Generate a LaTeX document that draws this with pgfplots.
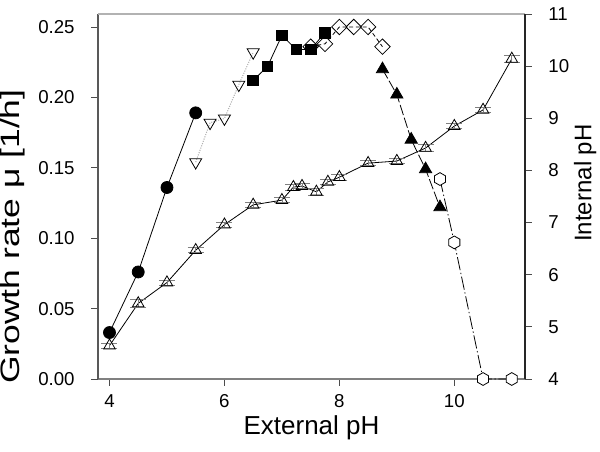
\documentclass[border=0pt]{standalone}
\usepackage{fontspec}
\setmainfont{Liberation Sans}
\usepackage{pgfplots}
\pgfplotsset{compat=1.18}

% open hexagon mark (pointy top)
\pgfdeclareplotmark{hexagon}{%
  \pgfpathmoveto{\pgfqpointpolar{90}{\pgfplotmarksize}}%
  \pgfpathlineto{\pgfqpointpolar{150}{\pgfplotmarksize}}%
  \pgfpathlineto{\pgfqpointpolar{210}{\pgfplotmarksize}}%
  \pgfpathlineto{\pgfqpointpolar{270}{\pgfplotmarksize}}%
  \pgfpathlineto{\pgfqpointpolar{330}{\pgfplotmarksize}}%
  \pgfpathlineto{\pgfqpointpolar{30}{\pgfplotmarksize}}%
  \pgfpathclose
  \pgfusepathqfillstroke
}

\pgfplotsset{
  base/.style={
    scale only axis, width=320.25pt, height=273.75pt,
    xmin=3.8, xmax=11.23, clip=false,
    tick align=outside, major tick length=5pt,
    tick style={black!70, line width=0.6pt},
    tick label style={font=\fontsize{14}{16}\selectfont},
    /pgf/number format/assume math mode=true,
  },
}

\begin{document}
\begin{tikzpicture}
\useasboundingbox (-73.5pt,-54pt) rectangle (376.5pt,284.25pt);

\begin{axis}[base,
  ymin=0, ymax=0.2592,
  axis x line*=bottom, axis y line*=left,
  x axis line style={-, black!50, line width=1pt},
  y axis line style={-, black!65, line width=0.8pt},
  xtick={4,6,8,10},
  ytick={0,0.05,0.10,0.15,0.20,0.25},
  xticklabel style={yshift=-3pt},
  yticklabel style={xshift=-9pt, /pgf/number format/fixed, /pgf/number format/fixed zerofill, /pgf/number format/precision=2},
  xlabel={External pH}, ylabel={\scalebox{1.33}[1]{Growth rate μ [1/h]}},
  every axis x label/.style={at={(axis description cs:0.5,-0.134)}, anchor=center,
    font=\fontsize{19.5}{22}\selectfont},
  every axis y label/.style={at={(axis description cs:-0.199,0.39)}, rotate=90, anchor=center,
    font=\fontsize{20}{23}\selectfont},
]
\addplot[black, line width=0.6pt, mark=*, mark size=4.5pt]
  coordinates {(4,0.033) (4.5,0.076) (5,0.136) (5.5,0.189)};
\addplot[gray!60, densely dotted, line width=0.8pt, mark=triangle, mark size=5.2pt,
  mark options={solid, black, fill=white, rotate=180, line width=0.6pt}]
  coordinates {(5.5,0.154) (5.75,0.182) (6,0.185) (6.25,0.209) (6.5,0.232)};
\addplot[black, line width=0.6pt, mark=square*, mark size=4pt]
  coordinates {(6.5,0.212) (6.75,0.222) (7,0.244) (7.25,0.234) (7.5,0.234) (7.75,0.246)};
\addplot[black, line width=0.6pt, densely dashed, mark=square, mark size=4.1pt,
  mark options={solid, rotate=45, fill=white}]
  coordinates {(7.5,0.236) (7.75,0.238) (8,0.25) (8.25,0.25) (8.5,0.25) (8.75,0.236)};
\addplot[black, line width=0.6pt, dash pattern=on 8pt off 2pt, mark=triangle*, mark size=5.3pt,
  mark options={solid}]
  coordinates {(8.75,0.220) (9,0.202) (9.25,0.170) (9.5,0.149) (9.75,0.122)};
\addplot[black, line width=0.6pt, dash pattern=on 10pt off 2pt on 1pt off 2pt, mark=hexagon,
  mark size=4.8pt, mark options={solid, fill=white}]
  coordinates {(9.75,0.142) (10,0.097) (10.5,0) (11,0)};
\end{axis}

\begin{axis}[base,
  ymin=4, ymax=11,
  axis x line*=top, axis y line*=right,
  xtick=\empty,
  x axis line style={-, black!30, line width=1pt},
  y axis line style={-, black!85, line width=0.8pt},
  ytick={4,5,6,7,8,9,10,11},
  yticklabel style={xshift=9pt},
  ylabel={Internal pH},
  every axis y label/.style={at={(axis description cs:1.141,0.537)}, rotate=90, anchor=center,
    font=\fontsize{18}{21}\selectfont},
]
\addplot[black, line width=0.6pt, mark=triangle, mark size=5pt, mark options={fill=white},
  error bars/.cd, y dir=both, y explicit,
  error bar style={gray, line width=0.6pt},
  error mark options={rotate=90, mark size=6pt, gray, line width=0.6pt}]
  table[x=x, y=y, y error=e] {
x     y     e
4.0   4.64  0.05
4.5   5.45  0.07
5.0   5.85  0.05
5.5   6.47  0.05
6.0   6.96  0.05
6.5   7.34  0.05
7.0   7.43  0.05
7.2   7.68  0.06
7.35  7.70  0.05
7.6   7.59  0.06
7.8   7.78  0.05
8.0   7.87  0.06
8.5   8.14  0.05
9.0   8.18  0.05
9.5   8.43  0.06
10.0  8.85  0.05
10.5  9.16  0.05
11.0  10.14 0.06
};
\end{axis}
\end{tikzpicture}
\end{document}
